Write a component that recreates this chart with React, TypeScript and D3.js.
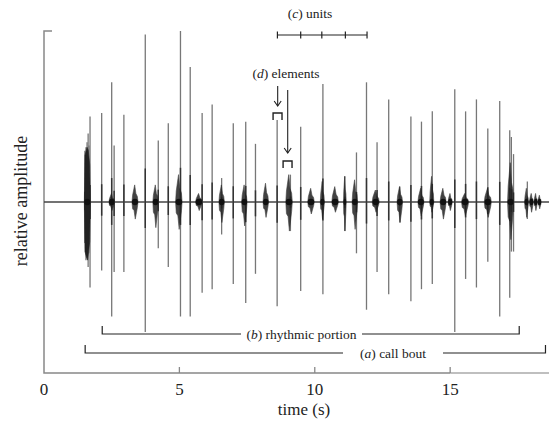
import * as d3 from "d3";

// spikes: time (s), upward and downward relative amplitude
const spikeTimes = [1.51, 1.55, 1.59, 1.63, 1.66, 1.70, 2.13, 2.50, 2.59, 2.95, 3.74, 4.22, 4.59, 5.04, 5.40, 5.84, 6.21, 6.56, 6.99, 7.45, 7.81, 8.61, 9.10, 9.48, 10.30, 11.11, 11.54, 11.91, 12.30, 12.73, 13.14, 13.55, 13.94, 14.34, 15.17, 15.57, 15.97, 16.39, 16.83, 17.20, 17.26, 17.34, 17.85];
const spikeUp = [0.30, 0.32, 0.35, 0.40, 0.33, 0.50, 0.52, 0.70, 0.33, 0.51, 0.98, 0.36, 0.46, 1.0, 0.79, 0.52, 0.57, 0.14, 0.46, 0.47, 0.34, 0.48, 0.16, 0.44, 0.69, 0.15, 0.29, 0.70, 0.35, 0.60, 0.09, 0.50, 0.47, 0.53, 0.66, 0.53, 0.60, 0.43, 0.59, 0.42, 0.38, 0.28, 0.12];
const spikeDown = [0.24, 0.34, 0.32, 0.38, 0.30, 0.50, 0.40, 0.67, 0.41, 0.41, 0.76, 0.27, 0.38, 0.67, 0.67, 0.53, 0.51, 0.19, 0.48, 0.59, 0.42, 0.61, 0.17, 0.52, 0.54, 0.17, 0.30, 0.63, 0.41, 0.54, 0.12, 0.58, 0.51, 0.48, 0.76, 0.45, 0.50, 0.35, 0.67, 0.56, 0.29, 0.29, 0.10];

// dense bursts around the baseline
const burstTimes = [1.60, 2.50, 3.36, 4.12, 4.98, 5.72, 6.56, 7.40, 8.19, 9.05, 9.86, 10.28, 10.75, 11.11, 11.48, 12.25, 13.14, 13.92, 14.32, 14.74, 15.0, 15.55, 16.39, 17.23, 17.82, 18.0, 18.16, 18.30];
const burstUp = [0.32, 0.05, 0.10, 0.10, 0.16, 0.05, 0.10, 0.10, 0.11, 0.16, 0.08, 0.12, 0.09, 0.15, 0.13, 0.07, 0.09, 0.08, 0.15, 0.08, 0.05, 0.05, 0.08, 0.23, 0.08, 0.05, 0.05, 0.04];
const burstDown = [0.34, 0.05, 0.10, 0.15, 0.16, 0.05, 0.12, 0.14, 0.09, 0.17, 0.07, 0.10, 0.06, 0.17, 0.16, 0.06, 0.12, 0.08, 0.06, 0.10, 0.05, 0.08, 0.09, 0.22, 0.09, 0.06, 0.05, 0.04];
const burstDur = [0.22, 0.20, 0.22, 0.20, 0.24, 0.24, 0.20, 0.20, 0.20, 0.24, 0.24, 0.15, 0.24, 0.10, 0.20, 0.26, 0.20, 0.22, 0.15, 0.22, 0.15, 0.26, 0.26, 0.22, 0.14, 0.14, 0.12, 0.12];

const xTicks = [0, 5, 10, 15];
const unitTicks = [8.62, 9.48, 10.26, 11.13, 11.93];
const elementArrows = [8.63, 9.0];
const elementBrackets = [[8.46, 8.79], [8.83, 9.16]];
const rhythmicSpan = [2.15, 17.55];
const boutSpan = [1.52, 18.52];

const W = 549;
const H = 423;
const serif = "Liberation Serif, Times New Roman, Tinos, DejaVu Serif, Noto Serif, FreeSerif, serif";

export default function App() {
  const x = d3.scaleLinear().domain([0, 18.65]).range([44, 549]);
  const y = d3.scaleLinear().domain([-1, 1]).range([373, 31]);
  const y0 = y(0);

  const burstPath = (t: number, up: number, down: number, dur: number) => {
    const h = dur / 2;
    // big bursts are dense blocks, small ones are spiky knots
    const f = up > 0.25 ? 0.85 : 0.4;
    const pts: [number, number][] = [
      [t - h, 0], [t - h * 0.8, up * f], [t - h * 0.1, up], [t + h * 0.3, up * (f + 0.1)], [t + h * 0.8, up * f * 0.8], [t + h, 0],
      [t + h * 0.8, -down * f * 0.8], [t + h * 0.1, -down], [t - h * 0.3, -down * (f + 0.1)], [t - h * 0.8, -down * f],
    ];
    return d3.line().x(d => x(d[0])).y(d => y(d[1])).curve(d3.curveLinearClosed)(pts) || "";
  };

  const bracket = (span: number[], yy: number, label: string, italic: string, gap: number[]) => (
    <g>
      <path d={`M${x(span[0])},${yy - 8}V${yy}H${gap[0]}`} fill="none" stroke="#222" strokeWidth={1.2} />
      <path d={`M${gap[1]},${yy}H${x(span[1])}V${yy - 8}`} fill="none" stroke="#222" strokeWidth={1.2} />
      <text x={(gap[0] + gap[1]) / 2} y={yy + 4.5} textAnchor="middle" fontSize={13.5} style={{ fontFamily: serif }} fill="#222">
        (<tspan fontStyle="italic">{italic}</tspan>) {label}
      </text>
    </g>
  );

  return (
    <svg width={W} height={H} style={{ position: "absolute", left: 0, top: 0, background: "#fff", fontFamily: serif }}>
      {/* axes */}
      <path d={`M${x(0) + 8},31H${x(0)}V373H${x(15)}`} fill="none" stroke="#888" strokeWidth={1.5} />
      <path d={`M${x(15)},373H549`} fill="none" stroke="#aaa" strokeWidth={1.5} />
      {xTicks.map(t => (
        <g key={t}>
          {t > 0 && <line x1={x(t)} x2={x(t)} y1={373} y2={367} stroke="#888" strokeWidth={1.3} />}
          <text x={x(t)} y={395} textAnchor="middle" fontSize={17} style={{ fontFamily: serif }} fill="#222">{t}</text>
        </g>
      ))}
      <text x={304} y={415} textAnchor="middle" fontSize={17} style={{ fontFamily: serif }} fill="#222">time (s)</text>
      <text transform={`translate(27,201) rotate(-90)`} textAnchor="middle" fontSize={18} style={{ fontFamily: serif }} fill="#222">relative amplitude</text>

      {/* baseline */}
      <line x1={x(0)} x2={549} y1={y0} y2={y0} stroke="#444" strokeWidth={1.7} />

      {/* spikes */}
      {spikeTimes.map((t, i) => (
        <line key={i} x1={x(t)} x2={x(t)} y1={y(spikeUp[i])} y2={y(-spikeDown[i])} stroke="#777" strokeWidth={1.3} />
      ))}
      {spikeTimes.map((t, i) => (
        <line key={"c" + i} x1={x(t)} x2={x(t)} y1={y(spikeUp[i] * 0.2)} y2={y(-spikeDown[i] * 0.2)} stroke="#333" strokeWidth={1.5} />
      ))}

      {/* bursts */}
      {burstTimes.map((t, i) => (
        <path key={i} d={burstPath(t, burstUp[i], burstDown[i], burstDur[i])} fill="#222" stroke="#222" strokeWidth={0.6} opacity={burstUp[i] > 0.25 ? 1 : 0.85} />
      ))}
      {burstTimes.map((t, i) => (
        <ellipse key={"k" + i} cx={x(t)} cy={y0} rx={Math.min(3.2, (x(burstDur[i]) - x(0)) / 2)} ry={3.2} fill="#111" />
      ))}

      {/* (c) units */}
      <text x={310} y={18} textAnchor="middle" fontSize={13.5} style={{ fontFamily: serif }} fill="#222">
        (<tspan fontStyle="italic">c</tspan>) units
      </text>
      <line x1={x(unitTicks[0])} x2={x(unitTicks[unitTicks.length - 1])} y1={35} y2={35} stroke="#222" strokeWidth={1.2} />
      {unitTicks.map(t => (
        <line key={t} x1={x(t)} x2={x(t)} y1={31.5} y2={38.5} stroke="#222" strokeWidth={1.2} />
      ))}

      {/* (d) elements */}
      <text x={286} y={78} textAnchor="middle" fontSize={13.5} style={{ fontFamily: serif }} fill="#222">
        (<tspan fontStyle="italic">d</tspan>) elements
      </text>
      {elementArrows.map((t, i) => {
        const top = i === 0 ? 86 : 90;
        const bot = i === 0 ? 106 : 153;
        return (
          <g key={i} fill="none" stroke="#222" strokeWidth={1.1}>
            <line x1={x(t)} x2={x(t)} y1={top} y2={bot} />
            <path d={`M${x(t) - 3.5},${bot - 5}L${x(t)},${bot}L${x(t) + 3.5},${bot - 5}`} />
          </g>
        );
      })}
      {elementBrackets.map((b, i) => {
        const top = i === 0 ? 113 : 161;
        return (
          <path key={i} d={`M${x(b[0])},${top + 7}V${top}H${x(b[1])}V${top + 7}`} fill="none" stroke="#222" strokeWidth={1.4} />
        );
      })}

      {/* (b) and (a) brackets */}
      {bracket(rhythmicSpan, 334, "rhythmic portion", "b", [241, 362])}
      {bracket(boutSpan, 353, "call bout", "a", [343, 443])}
    </svg>
  );
}
